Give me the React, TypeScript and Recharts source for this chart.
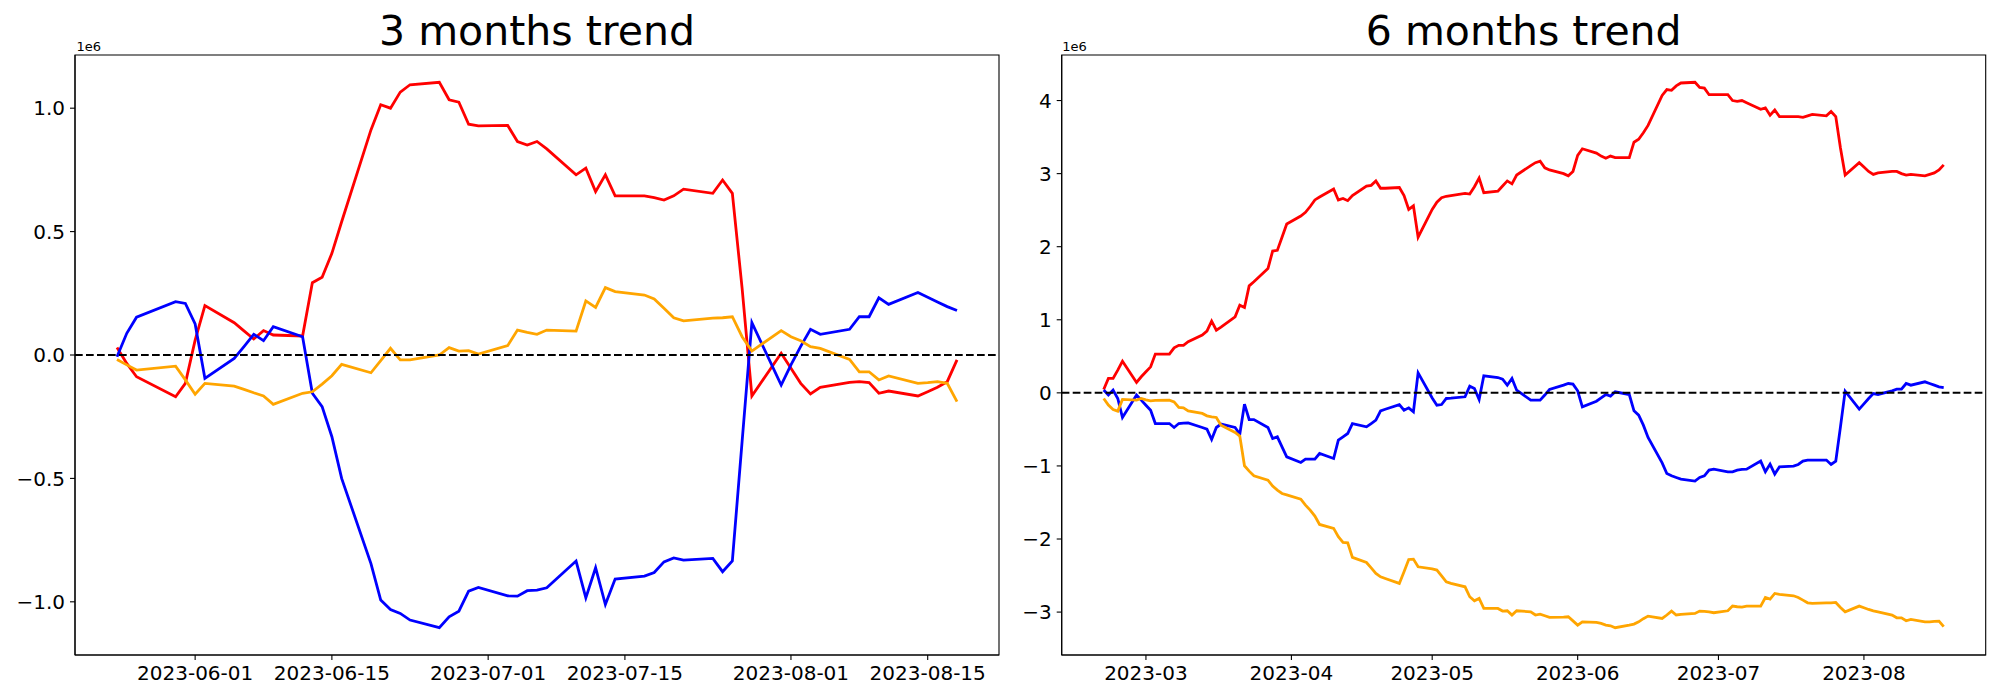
import React from 'react'
import { LineChart, Line, XAxis, YAxis, ReferenceLine, ReferenceArea } from 'recharts'

// 3 months window (values in units of 1e6)
const dates3 = [
  '2023-05-24', '2023-05-25', '2023-05-26', '2023-05-30', '2023-05-31',
  '2023-06-01', '2023-06-02', '2023-06-05', '2023-06-06', '2023-06-07', '2023-06-08', '2023-06-09',
  '2023-06-12', '2023-06-13', '2023-06-14', '2023-06-15', '2023-06-16', '2023-06-19', '2023-06-20',
  '2023-06-21', '2023-06-22', '2023-06-23', '2023-06-26', '2023-06-27', '2023-06-28', '2023-06-29', '2023-06-30',
  '2023-07-03', '2023-07-04', '2023-07-05', '2023-07-06', '2023-07-07', '2023-07-10', '2023-07-11',
  '2023-07-12', '2023-07-13', '2023-07-14', '2023-07-17', '2023-07-18', '2023-07-19', '2023-07-20',
  '2023-07-21', '2023-07-24', '2023-07-25', '2023-07-26', '2023-07-27', '2023-07-28', '2023-07-31',
  '2023-08-01', '2023-08-02', '2023-08-03', '2023-08-04', '2023-08-07', '2023-08-08', '2023-08-09',
  '2023-08-10', '2023-08-11', '2023-08-14', '2023-08-15', '2023-08-16', '2023-08-17', '2023-08-18',
]
const red3 = [
  0.03, -0.034, -0.088, -0.169, -0.115,
  0.06, 0.2, 0.131, 0.098, 0.065, 0.099, 0.081, 0.077, 0.293, 0.315, 0.412, 0.54, 0.912, 1.014, 1.0, 1.065, 1.095,
  1.105, 1.034, 1.024, 0.935, 0.928,
  0.93, 0.865, 0.851, 0.865, 0.835, 0.73, 0.757, 0.662, 0.73, 0.645, 0.645, 0.638, 0.628, 0.645, 0.672, 0.655,
  0.709, 0.655, 0.27, -0.166, 0.007,
  -0.054, -0.115, -0.158, -0.131, -0.111, -0.108, -0.112, -0.155, -0.146, -0.166, -0.149, -0.131, -0.108, -0.02,
]
const blue3 = [
  -0.007, 0.088, 0.153, 0.216, 0.209,
  0.126, -0.095, -0.014, 0.034, 0.084, 0.058, 0.115, 0.074, -0.155, -0.209, -0.331, -0.5, -0.845, -0.993, -1.031,
  -1.047, -1.074, -1.105, -1.061, -1.038, -0.957, -0.942,
  -0.976, -0.977, -0.955, -0.953, -0.943, -0.835, -0.984, -0.862, -1.011, -0.908, -0.896, -0.881, -0.838, -0.822,
  -0.831, -0.824, -0.878, -0.834, -0.35, 0.131, -0.122,
  -0.04, 0.035, 0.104, 0.084, 0.104, 0.155, 0.155, 0.232, 0.205, 0.253, 0.234, 0.215, 0.196, 0.18,
]
const orange3 = [
  -0.018, -0.04, -0.061, -0.045, -0.101,
  -0.159, -0.115, -0.126, -0.139, -0.153, -0.166, -0.2, -0.155, -0.149, -0.118, -0.084, -0.038, -0.072, -0.023,
  0.027, -0.02, -0.02, 0.0, 0.03, 0.016, 0.018, 0.004,
  0.038, 0.101, 0.092, 0.084, 0.101, 0.097, 0.219, 0.193, 0.273, 0.257, 0.243, 0.227, 0.189, 0.151, 0.138, 0.149,
  0.151, 0.155, 0.074, 0.016, 0.099,
  0.074, 0.058, 0.034, 0.027, -0.018, -0.068, -0.068, -0.101, -0.085, -0.115, -0.112, -0.108, -0.115, -0.189,
]
const ticks3 = ['2023-06-01', '2023-06-15', '2023-07-01', '2023-07-15', '2023-08-01', '2023-08-15']
const yTicks3 = [-1, -0.5, 0, 0.5, 1]

// 6 months window (values in units of 1e6)
const dates6 = [
  '02-20', '02-21', '02-22', '02-23', '02-24', '02-27', '02-28',
  '03-01', '03-02', '03-03', '03-06', '03-07', '03-08', '03-09', '03-10', '03-13', '03-14', '03-15', '03-16',
  '03-17', '03-20', '03-21', '03-22', '03-23', '03-24', '03-27', '03-28', '03-29', '03-30', '03-31',
  '04-03', '04-04', '04-05', '04-06', '04-07', '04-10', '04-11', '04-12', '04-13', '04-14', '04-17', '04-18',
  '04-19', '04-20', '04-21', '04-24', '04-25', '04-26', '04-27', '04-28',
  '05-01', '05-02', '05-03', '05-04', '05-05', '05-08', '05-09', '05-10', '05-11', '05-12', '05-15', '05-16',
  '05-17', '05-18', '05-19', '05-22', '05-23', '05-24', '05-25', '05-26', '05-29', '05-30', '05-31',
  '06-01', '06-02', '06-05', '06-06', '06-07', '06-08', '06-09', '06-12', '06-13', '06-14', '06-15', '06-16',
  '06-19', '06-20', '06-21', '06-22', '06-23', '06-26', '06-27', '06-28', '06-29', '06-30',
  '07-03', '07-04', '07-05', '07-06', '07-07', '07-10', '07-11', '07-12', '07-13', '07-14', '07-17', '07-18',
  '07-19', '07-20', '07-21', '07-24', '07-25', '07-26', '07-27', '07-28', '07-31',
  '08-01', '08-02', '08-03', '08-04', '08-07', '08-08', '08-09', '08-10', '08-11', '08-14', '08-15', '08-16',
  '08-17', '08-18',
].map((d) => '2023-' + d)
const red6 = [
  0.046, 0.197, 0.197, 0.31, 0.434, 0.142, 0.22,
  0.288, 0.356, 0.53, 0.53, 0.616, 0.65, 0.65, 0.7, 0.79, 0.845, 0.981, 0.858, 0.9, 1.04, 1.2, 1.168, 1.464, 1.52,
  1.7, 1.94, 1.95, 2.13, 2.31,
  2.42, 2.47, 2.55, 2.64, 2.68, 2.79, 2.64, 2.66, 2.63, 2.7, 2.83, 2.84, 2.9, 2.8, 2.8, 2.81, 2.7, 2.51, 2.56, 2.13,
  2.51, 2.61, 2.67, 2.69, 2.7, 2.73, 2.72, 2.82, 2.94, 2.74, 2.76, 2.83, 2.9, 2.86, 2.98, 3.11, 3.15, 3.17, 3.08,
  3.05, 3.0, 2.97, 3.03,
  3.25, 3.34, 3.28, 3.24, 3.21, 3.24, 3.22, 3.22, 3.43, 3.47, 3.56, 3.66, 4.07, 4.15, 4.14, 4.2, 4.24, 4.25, 4.18,
  4.17, 4.08, 4.08,
  4.08, 4.0, 3.99, 4.0, 3.97, 3.88, 3.9, 3.8, 3.87, 3.78, 3.78, 3.78, 3.77, 3.79, 3.81, 3.79, 3.85, 3.78, 3.35,
  2.98, 3.15,
  3.09, 3.03, 2.99, 3.01, 3.03, 3.03, 3.0, 2.98, 2.99, 2.97, 2.99, 3.01, 3.05, 3.12,
]
const blue6 = [
  0.04, -0.03, 0.037, -0.077, -0.337, -0.03, -0.1,
  -0.17, -0.237, -0.42, -0.42, -0.474, -0.42, -0.415, -0.41, -0.474, -0.497, -0.638, -0.474, -0.428, -0.474,
  -0.565, -0.155, -0.365, -0.365, -0.474, -0.624, -0.602, -0.738, -0.875,
  -0.953, -0.907, -0.907, -0.907, -0.83, -0.898, -0.647, -0.602, -0.556, -0.42, -0.465, -0.42, -0.374, -0.246,
  -0.224, -0.16, -0.237, -0.205, -0.26, 0.274,
  -0.07, -0.169, -0.16, -0.077, -0.073, -0.054, 0.092, 0.06, -0.091, 0.233, 0.21, 0.187, 0.105, 0.197, 0.037,
  -0.1, -0.1, -0.1, -0.03, 0.046, 0.105, 0.128, 0.119,
  0.028, -0.191, -0.114, -0.068, -0.023, -0.045, 0.014, -0.023, -0.246, -0.305, -0.442, -0.61, -0.958, -1.104,
  -1.135, -1.158, -1.181, -1.208, -1.158, -1.135, -1.057, -1.044,
  -1.08, -1.08, -1.057, -1.048, -1.044, -0.934, -1.08, -0.975, -1.112, -1.012, -1.003, -0.98, -0.934, -0.92,
  -0.92, -0.92, -0.98, -0.934, -0.465, 0.023, -0.223,
  -0.15, -0.077, -0.009, -0.022, 0.028, 0.05, 0.05, 0.128, 0.105, 0.151, 0.128, 0.105, 0.083, 0.073,
]
const orange6 = [
  -0.077, -0.168, -0.228, -0.25, -0.09, -0.1, -0.077,
  -0.095, -0.109, -0.104, -0.1, -0.123, -0.2, -0.205, -0.246, -0.282, -0.314, -0.328, -0.337, -0.442, -0.542,
  -0.592, -0.998, -1.071, -1.135, -1.194, -1.276, -1.331, -1.377, -1.395,
  -1.454, -1.536, -1.605, -1.687, -1.801, -1.855, -1.969, -2.047, -2.052, -2.252, -2.321, -2.394, -2.47, -2.517,
  -2.54, -2.608, -2.447, -2.28, -2.275, -2.38,
  -2.41, -2.425, -2.503, -2.585, -2.608, -2.654, -2.79, -2.845, -2.813, -2.95, -2.95, -2.986, -2.982, -3.041,
  -2.982, -2.996, -3.04, -3.028, -3.05, -3.073, -3.069, -3.064, -3.12,
  -3.178, -3.133, -3.142, -3.155, -3.178, -3.187, -3.214, -3.178, -3.164, -3.133, -3.09, -3.055, -3.087, -3.04,
  -2.986, -3.04, -3.032, -3.018, -2.986, -2.99, -2.996, -3.009,
  -2.982, -2.918, -2.927, -2.932, -2.918, -2.918, -2.8, -2.822, -2.745, -2.759, -2.777, -2.8, -2.836, -2.873,
  -2.882, -2.873, -2.873, -2.868, -2.936, -2.996, -2.918,
  -2.941, -2.964, -2.982, -2.996, -3.04, -3.078, -3.078, -3.119, -3.1, -3.133, -3.133, -3.128, -3.123, -3.2,
]
const ticks6 = ['2023-03-01', '2023-04-01', '2023-05-01', '2023-06-01', '2023-07-01', '2023-08-01']
const yTicks6 = [-3, -2, -1, 0, 1, 2, 3, 4]

const FONT = 'DejaVu Sans'

function buildRows(dates: string[], red: number[], blue: number[], orange: number[]) {
  return dates.map((d, i) => ({ t: Date.parse(d), red: red[i], blue: blue[i], orange: orange[i] }))
}

// matplotlib style 5% margins
function padded(min: number, max: number): [number, number] {
  const p = (max - min) * 0.05
  return [min - p, max + p]
}

const minus = (s: string) => s.replace('-', '\u2212')

interface TrendProps {
  rows: { t: number; red: number; blue: number; orange: number }[]
  xTicks: string[]
  xLabelLen: number
  yTicks: number[]
  yDigits: number
  yAxisWidth: number
  margin: { top: number; right: number; bottom: number; left: number }
  left: number
}

function TrendChart({ rows, xTicks, xLabelLen, yTicks, yDigits, yAxisWidth, margin, left }: TrendProps) {
  const ts = rows.map((r) => r.t)
  const vals = rows.flatMap((r) => [r.red, r.blue, r.orange])
  const xDomain = padded(Math.min(...ts), Math.max(...ts))
  const yDomain = padded(Math.min(...vals), Math.max(...vals))
  const tickStyle = { fill: '#000', fontSize: 20, fontFamily: FONT }
  const axisLine = { stroke: '#000', strokeWidth: 1.1 }

  return (
    <div style={{ position: 'absolute', left, top: 0 }}>
      <LineChart width={1000} height={700} data={rows} margin={margin} style={{ fontFamily: FONT }}>
        <XAxis
          dataKey="t"
          type="number"
          domain={xDomain}
          ticks={xTicks.map((d) => Date.parse(d))}
          tickFormatter={(v) => new Date(v).toISOString().slice(0, xLabelLen)}
          tick={tickStyle}
          tickSize={5}
          tickMargin={6}
          axisLine={axisLine}
          tickLine={axisLine}
          height={40}
          allowDataOverflow
        />
        <YAxis
          type="number"
          domain={yDomain}
          ticks={yTicks}
          tickFormatter={(v) => minus(Number(v).toFixed(yDigits))}
          tick={tickStyle}
          tickSize={5}
          tickMargin={5}
          axisLine={axisLine}
          tickLine={axisLine}
          width={yAxisWidth}
          allowDataOverflow
        />
        {/* axes frame */}
        <ReferenceArea
          x1={xDomain[0]}
          x2={xDomain[1]}
          y1={yDomain[0]}
          y2={yDomain[1]}
          fill="none"
          fillOpacity={0}
          stroke="#000"
          strokeWidth={1.1}
        />
        <Line type="linear" dataKey="red" stroke="#ff0000" strokeWidth={2.8} dot={false} isAnimationActive={false} />
        <Line type="linear" dataKey="blue" stroke="#0000ff" strokeWidth={2.8} dot={false} isAnimationActive={false} />
        <Line type="linear" dataKey="orange" stroke="#ffa500" strokeWidth={2.8} dot={false} isAnimationActive={false} />
        <ReferenceLine y={0} stroke="#000" strokeWidth={2} strokeDasharray="7.7 3.3" />
      </LineChart>
    </div>
  )
}

export default function App() {
  const rows3 = buildRows(dates3, red3, blue3, orange3)
  const rows6 = buildRows(dates6, red6, blue6, orange6)

  return (
    <div style={{ position: 'absolute', left: 0, top: 0, width: 2000, height: 700, background: '#fff' }}>
      <TrendChart
        rows={rows3}
        xTicks={ticks3}
        xLabelLen={10}
        yTicks={yTicks3}
        yDigits={1}
        yAxisWidth={70}
        margin={{ top: 55, right: 1, bottom: 5, left: 5 }}
        left={0}
      />
      <TrendChart
        rows={rows6}
        xTicks={ticks6}
        xLabelLen={7}
        yTicks={yTicks6}
        yDigits={0}
        yAxisWidth={50}
        margin={{ top: 55, right: 14.3, bottom: 5, left: 11.7 }}
        left={1000}
      />
      <svg width={2000} height={700} style={{ position: 'absolute', left: 0, top: 0, pointerEvents: 'none' }}>
        <text x={537} y={45} textAnchor="middle" fontSize={41} fontFamily={FONT} fill="#000">3 months trend</text>
        <text x={1523.7} y={45} textAnchor="middle" fontSize={41} fontFamily={FONT} fill="#000">6 months trend</text>
        <text x={76.5} y={50.5} fontSize={13} fontFamily={FONT} fill="#000">1e6</text>
        <text x={1062.3} y={50.5} fontSize={13} fontFamily={FONT} fill="#000">1e6</text>
      </svg>
    </div>
  )
}
